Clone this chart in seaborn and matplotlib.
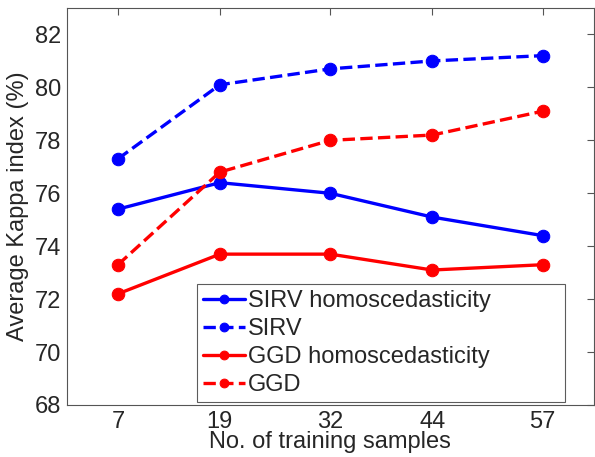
import matplotlib.pyplot as plt
import seaborn as sns

samples = [7, 19, 32, 44, 57]
sirv_homo = [75.4, 76.4, 76.0, 75.1, 74.4]
sirv = [77.3, 80.1, 80.7, 81.0, 81.2]
ggd_homo = [72.2, 73.7, 73.7, 73.1, 73.3]
ggd = [73.3, 76.8, 78.0, 78.2, 79.1]

sns.set_style("white")
plt.rcParams['font.family'] = ['Liberation Sans', 'DejaVu Sans']

fig = plt.figure(figsize=(5.95, 4.57), dpi=100)
ax = fig.add_axes([0.1126, 0.1138, 0.885, 0.8687])

series = [
    (sirv_homo, 'SIRV homoscedasticity', 'blue', '-'),
    (sirv, 'SIRV', 'blue', '--'),
    (ggd_homo, 'GGD homoscedasticity', 'red', '-'),
    (ggd, 'GGD', 'red', '--'),
]
for vals, name, col, ls in series:
    sns.lineplot(x=samples, y=vals, ax=ax, color=col, linestyle=ls, lw=2.4,
                 marker='o', markersize=9, markeredgecolor=col, label=name)

ax.set_xlim(1, 63)
ax.set_ylim(68, 83)
ax.set_xticks(samples)
ax.set_yticks(range(68, 83, 2))
ax.tick_params(direction='in', length=5, width=0.8, color='#555555', labelsize=17,
               top=True, right=True, pad=4)
for s in ax.spines.values():
    s.set_color('#555555')
    s.set_linewidth(0.8)
ax.set_xlabel('No. of training samples', fontsize=17, labelpad=-1)
ax.set_ylabel('Average Kappa index (%)', fontsize=17, labelpad=4)

# wide box with empty space on the right, like the original
leg = ax.legend(loc='lower left', fontsize=17, frameon=True, fancybox=False,
                edgecolor='#333333', handlelength=1.8, handletextpad=0.1,
                borderpad=0.25, labelspacing=0.25, markerscale=0.7,
                bbox_to_anchor=(0.247, 0.008, 0.698, 0.0), mode='expand',
                borderaxespad=0)
leg.get_frame().set_linewidth(0.8)

fig.savefig('out.png', dpi=100)
